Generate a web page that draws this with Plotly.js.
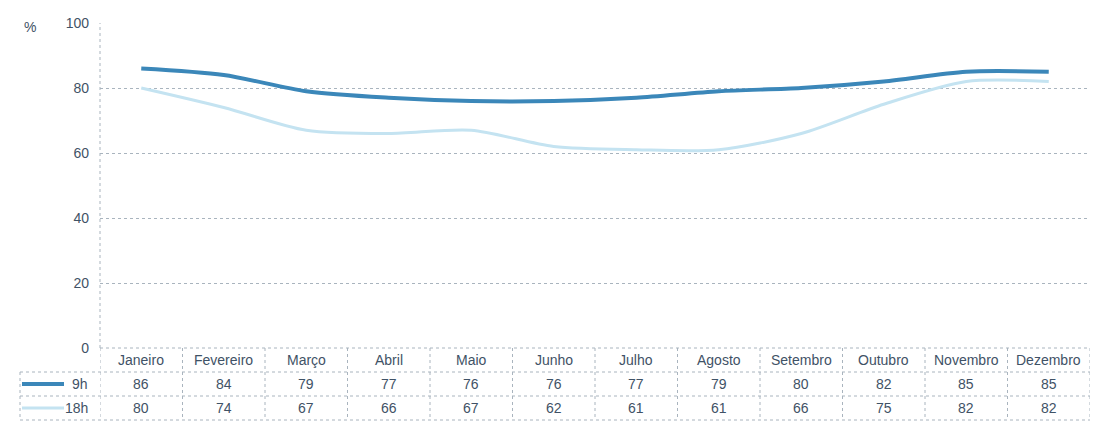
<!DOCTYPE html>
<html><head><meta charset="utf-8">
<script src="https://cdn.plot.ly/plotly-3.0.1.min.js"></script>
<style>body{margin:0;background:#fff}#c{width:1099px;height:428px}</style>
</head><body><div id="c"></div>
<script>
const months = ["Janeiro","Fevereiro","Março","Abril","Maio","Junho","Julho","Agosto","Setembro","Outubro","Novembro","Dezembro"];
const h9 = [86,84,79,77,76,76,77,79,80,82,85,85];
const h18 = [80,74,67,66,67,62,61,61,66,75,82,82];
const seriesNames = ["9h","18h"];
const yTicks = [0,20,40,60,80,100];

const c9 = "#3b87b9", c18 = "#c4e3f1";
const txt = "#3f5266";
const grid = "#a9b4be";
const L = 100, R = 9, T = 23, B = 80, W = 1099, H = 428;
const PH = H - T - B, PW = W - L - R;
const py = p => (H - B - p) / PH;
const px = p => (p - L) / PW;

const rowA = 372, rowB = 396, rowC = 420;
const shapes = [];
const dl = {color: grid, width: 1, dash: "dot"};
shapes.push({type:"line", xref:"paper", yref:"paper", x0:0, x1:1, y0:0, y1:0, line:dl});
shapes.push({type:"line", xref:"paper", yref:"paper", x0:px(20), x1:1, y0:py(rowA), y1:py(rowA), line:dl});
shapes.push({type:"line", xref:"paper", yref:"paper", x0:px(20), x1:1, y0:py(rowB), y1:py(rowB), line:dl});
shapes.push({type:"line", xref:"paper", yref:"paper", x0:px(20), x1:1, y0:py(rowC), y1:py(rowC), line:dl});
shapes.push({type:"line", xref:"paper", yref:"paper", x0:px(20), x1:px(20), y0:py(rowA), y1:py(rowC), line:dl});
// y axis line
shapes.push({type:"line", xref:"paper", yref:"paper", x0:0, x1:0, y0:0, y1:1, line:dl});
for (let i = 0; i <= months.length; i++) {
  shapes.push({type:"line", xref:"x", yref:"paper", x0:i-0.5, x1:i-0.5, y0:0, y1:py(rowC), line:dl});
}
shapes.push({type:"line", xref:"paper", yref:"paper", x0:px(22), x1:px(64), y0:py(384), y1:py(384), line:{color:c9, width:4}});
shapes.push({type:"line", xref:"paper", yref:"paper", x0:px(22), x1:px(64), y0:py(408), y1:py(408), line:{color:c18, width:3}});

const ann = [];
const f = {family:"Liberation Sans, Arial, sans-serif", size:14, color:txt};
months.forEach((m,i) => {
  ann.push({x:i, xref:"x", y:py(360), yref:"paper", text:m, showarrow:false, font:f, yanchor:"middle"});
  ann.push({x:i, xref:"x", y:py(384), yref:"paper", text:String(h9[i]), showarrow:false, font:f, yanchor:"middle"});
  ann.push({x:i, xref:"x", y:py(408), yref:"paper", text:String(h18[i]), showarrow:false, font:f, yanchor:"middle"});
});
ann.push({x:px(90), xref:"paper", y:py(384), yref:"paper", text:seriesNames[0], showarrow:false, font:f, xanchor:"right", yanchor:"middle"});
ann.push({x:px(90), xref:"paper", y:py(408), yref:"paper", text:seriesNames[1], showarrow:false, font:f, xanchor:"right", yanchor:"middle"});
ann.push({x:px(30), xref:"paper", y:py(27), yref:"paper", text:"%", showarrow:false, font:f, xanchor:"center", yanchor:"middle"});

const traces = [
  {x: months.map((_,i)=>i), y: h18, name: seriesNames[1], mode:"lines", line:{color:c18, width:3, shape:"spline", smoothing:0.8}},
  {x: months.map((_,i)=>i), y: h9, name: seriesNames[0], mode:"lines", line:{color:c9, width:4, shape:"spline", smoothing:0.8}}
];

Plotly.newPlot("c", traces, {
  width:W, height:H,
  margin:{l:L, r:R, t:T, b:B},
  paper_bgcolor:"#fff", plot_bgcolor:"#fff",
  showlegend:false,
  xaxis:{range:[-0.5, 11.5], showticklabels:false, showgrid:false, zeroline:false, ticks:"", showline:false},
  yaxis:{range:[0,100], tickvals:yTicks, showgrid:true, gridcolor:grid, griddash:"dot", gridwidth:1,
         zeroline:false, showline:false, ticks:"", tickfont:f, ticklabelstandoff:10},
  shapes: shapes,
  annotations: ann,
  font: f
}, {displayModeBar:false, staticPlot:true});
</script></body></html>
